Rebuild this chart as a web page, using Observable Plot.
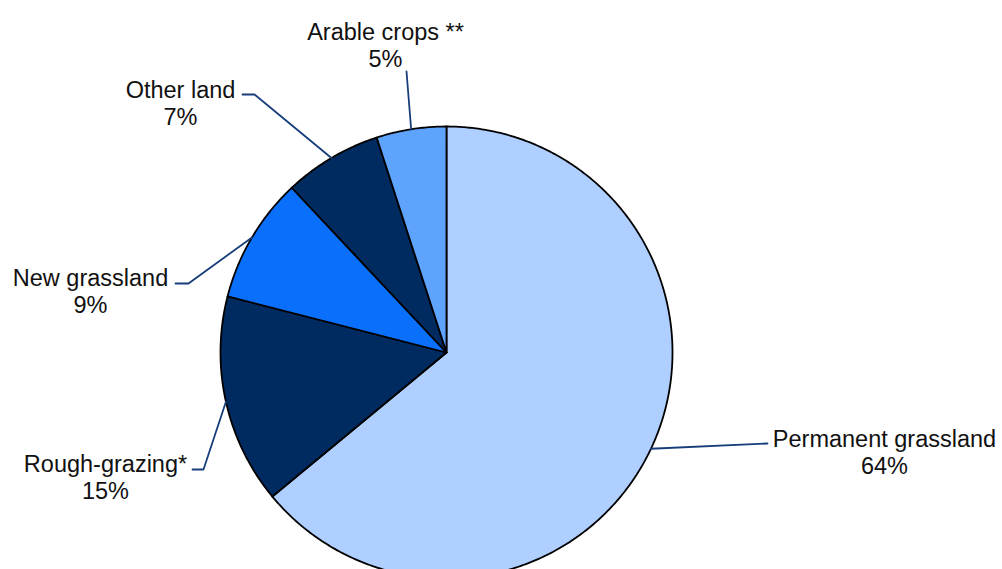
<!DOCTYPE html>
<html>
<head>
<meta charset="utf-8">
<script src="https://cdn.jsdelivr.net/npm/d3@7"></script>
<script src="https://cdn.jsdelivr.net/npm/@observablehq/plot@0.6"></script>
<style>
  html, body { margin: 0; padding: 0; background: #fff; }
  #chart svg { display: block; }
</style>
</head>
<body>
<div id="chart"></div>
<script>
// ---- Data ----
const categories = ["Permanent grassland", "Rough-grazing*", "New grassland", "Other land", "Arable crops **"];
const shares = [64, 15, 9, 7, 5];
const valueLabels = ["64%", "15%", "9%", "7%", "5%"];
const sliceColors = ["#aecfff", "#002b60", "#0a6ffa", "#002b60", "#5ea4ff"];

// ---- Layout (pixel offsets from pie centre, y up) ----
const W = 1002, H = 569;
const cx = 446, cy = 352, R = 226;
const layout = {
  "Permanent grassland": { label: [438, -99], leader: [[321, -91]] },
  "Rough-grazing*":      { label: [-341, -124], leader: [[-243, -117], [-254, -117]] },
  "New grassland":       { label: [-356, 62], leader: [[-258, 69], [-271, 69]] },
  "Other land":          { label: [-266, 250], leader: [[-192, 258], [-204, 258]] },
  "Arable crops **":     { label: [-61, 308], leader: [[-40, 281]] }
};

// ---- Build pie geometry from data ----
const total = d3.sum(shares);
const slices = [];
const leaders = [];
const labels = [];
let acc = 0;
categories.forEach((cat, i) => {
  const a0 = acc / total * 2 * Math.PI;
  acc += shares[i];
  const a1 = acc / total * 2 * Math.PI;
  const n = Math.max(2, Math.ceil((a1 - a0) / (Math.PI / 360)));
  slices.push({cat, x: 0, y: 0});
  for (let k = 0; k <= n; k++) {
    const a = a0 + (a1 - a0) * k / n;
    slices.push({cat, x: R * Math.sin(a), y: R * Math.cos(a)});
  }
  slices.push({cat, x: 0, y: 0});
  const am = (a0 + a1) / 2;
  leaders.push({cat, x: R * Math.sin(am), y: R * Math.cos(am)});
  for (const p of layout[cat].leader) leaders.push({cat, x: p[0], y: p[1]});
  labels.push({cat, text: cat + "\n" + valueLabels[i], x: layout[cat].label[0], y: layout[cat].label[1]});
});

const chart = Plot.plot({
  width: W,
  height: H,
  margin: 0,
  x: {domain: [-cx, W - cx], axis: null},
  y: {domain: [cy - H, cy], axis: null},
  color: {domain: categories, range: sliceColors},
  style: {fontFamily: "Liberation Sans, Arial, sans-serif", background: "#fff"},
  marks: [
    Plot.line(slices, {x: "x", y: "y", z: "cat", fill: "cat", stroke: "#000", strokeWidth: 1.8, strokeLinejoin: "round"}),
    Plot.line(leaders, {x: "x", y: "y", z: "cat", stroke: "#173d7a", strokeWidth: 1.8}),
    Plot.text(labels, {x: "x", y: "y", text: "text", fontSize: 23.5, lineHeight: 1.17, fill: "#111", textAnchor: "middle", lineAnchor: "middle"})
  ]
});
document.getElementById("chart").appendChild(chart);
</script>
</body>
</html>
